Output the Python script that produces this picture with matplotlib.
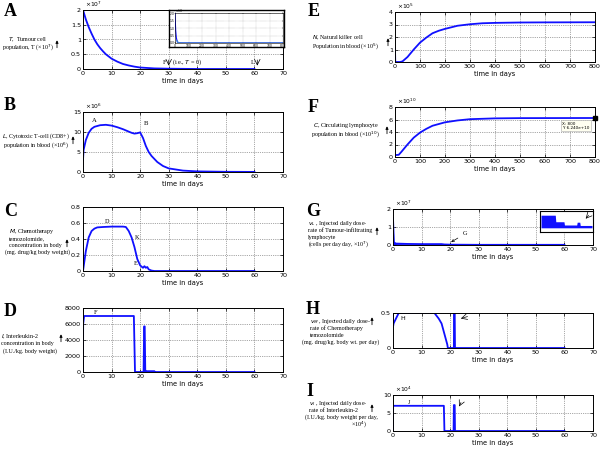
import matplotlib
matplotlib.use("Agg")
import matplotlib.pyplot as plt
from matplotlib.patches import FancyArrowPatch
import numpy as np

W, H = 600, 450
fig = plt.figure(figsize=(6, 4.5), dpi=100)

BLUE = "#1010ff"
SERIF = ["Liberation Serif", "DejaVu Serif"]
SANS = ["DejaVu Sans"]
LFS = 4.3   # side-label font size

# ---------------- data ----------------
tA = [0, 1, 2, 3, 4, 5, 6, 7, 8, 10, 12, 14, 16, 18, 20, 25, 30, 40, 50, 60]
TA = [2.0, 1.68, 1.42, 1.2, 1.0, 0.84, 0.71, 0.6, 0.5, 0.35, 0.25, 0.17, 0.12, 0.08,
      0.05, 0.02, 0.01, 0.0, 0.0, 0.0]
tA_in = [0, 5, 10, 15, 20, 30, 60, 800]
TA_in = [2.0, 0.84, 0.35, 0.15, 0.05, 0.01, 0.0, 0.0]

tB = [0, 0.2, 1, 2, 3, 4, 6, 8, 10, 12, 14, 16, 17, 18, 19, 20, 21, 22, 23, 24, 26, 28,
      30, 35, 40, 50, 60]
LB = [3.0, 5.5, 8.0, 9.8, 10.8, 11.3, 11.7, 11.8, 11.6, 11.2, 10.7, 10.1, 9.8, 9.6,
      9.7, 9.9, 8.5, 6.5, 5.0, 4.0, 2.5, 1.5, 0.9, 0.35, 0.15, 0.05, 0.02]

tC = [0, 1, 2, 3, 4, 5, 7, 10, 14, 15, 16, 17, 18, 19, 20, 21, 21.5, 22, 22.5, 23, 24,
      25, 60]
MC = [0.0, 0.25, 0.42, 0.5, 0.53, 0.545, 0.55, 0.555, 0.555, 0.55, 0.5, 0.42, 0.3,
      0.15, 0.07, 0.04, 0.06, 0.04, 0.05, 0.02, 0.005, 0.0, 0.0]

tD = [0, 0.05, 0.4, 17.8, 18.2, 21.2, 21.4, 21.6, 21.8, 22, 25, 25.1, 60]
ID = [0, 6000, 7000, 7000, 0, 0, 5700, 5700, 0, 100, 100, 0, 0]

tE = [0, 1, 20, 30, 50, 75, 100, 125, 150, 175, 200, 250, 300, 350, 400, 500, 600, 800]
NE = [1.1, 0.0, 0.0, 0.05, 0.4, 1.0, 1.55, 1.95, 2.3, 2.5, 2.65, 2.9, 3.02, 3.1, 3.13,
      3.16, 3.17, 3.18]

tF = [0, 15, 25, 50, 75, 100, 125, 150, 200, 250, 300, 400, 500, 800]
CF = [0.3, 0.35, 0.8, 2.0, 3.1, 3.9, 4.5, 5.0, 5.55, 5.85, 6.05, 6.18, 6.22, 6.24]

tG = [0, 0.3, 1, 5, 10, 17, 18, 20, 30, 40, 50, 60]
VG = [1.5, 0.15, 0.08, 0.06, 0.05, 0.05, 0.03, 0.02, 0.01, 0.01, 0.01, 0.01]
gi_x = [0, 2.8, 2.9, 4.5, 4.6, 7.0, 7.1, 7.6, 7.7, 10]
gi_y = [3.6, 3.6, 2.2, 2.2, 1.5, 1.5, 2.1, 2.1, 1.4, 1.4]

tH = [0, 0.2, 2, 14.5, 16, 17, 18, 19, 19.2, 21.3, 21.4, 21.6, 21.7, 60]
VH = [0.3, 0.35, 0.5, 0.5, 0.42, 0.35, 0.2, 0.05, 0.0, 0.0, 0.5, 0.5, 0.0, 0.0]

tI = [0, 0.05, 17.8, 18.0, 21.2, 21.3, 21.6, 21.7, 60]
VI = [0, 7.0, 7.0, 0, 0, 7.2, 7.2, 0, 0]


def box(x0, x1, y0, y1):
    return [x0 / W, 1 - y1 / H, (x1 - x0) / W, (y1 - y0) / H]


def style(ax, xlim, xt, ylim, yt, xlabel="time in days", fs=4.6):
    ax.set_xlim(*xlim)
    ax.set_ylim(*ylim)
    ax.set_xticks(xt)
    ax.set_yticks(yt)
    ax.tick_params(direction="in", top=True, right=True, length=2, width=0.5,
                   labelsize=fs, pad=1.5)
    for lab in ax.get_xticklabels() + ax.get_yticklabels():
        lab.set_fontfamily(SANS)
    ax.grid(True, linestyle=":", color="#555555", linewidth=0.5)
    for s in ax.spines.values():
        s.set_linewidth(0.7)
    if xlabel:
        ax.set_xlabel(xlabel, fontsize=4.8, labelpad=1.5)


def ftext(x, y, s, **kw):
    kw.setdefault("fontfamily", SERIF)
    fig.text(x / W, 1 - y / H, s, **kw)


def side(x, y, lines, ha="left", pitch=7.0):
    n = len(lines)
    y0 = y - pitch * (n - 1) / 2
    for i, ln in enumerate(lines):
        if isinstance(ln, tuple):
            txt, xx, h = ln
        else:
            txt, xx, h = ln, x, ha
        ftext(xx, y0 + i * pitch, txt, fontsize=LFS, va="center", ha=h)


def offset(ax, s):
    ax.text(0.01, 1.02, s, transform=ax.transAxes, fontsize=4.3, ha="left",
            va="bottom", fontfamily=SANS)


def arrow(x, y):
    p = FancyArrowPatch((x / W, 1 - (y + 6.5) / H), (x / W, 1 - (y - 6.5) / H),
                        transform=fig.transFigure, arrowstyle="-|>",
                        mutation_scale=4, lw=0.6, color="k")
    fig.add_artist(p)


def letter(x, y, s):
    ftext(x, y, s, fontsize=13, fontweight="bold", va="center")


# ---------------- A ----------------
axA = fig.add_axes(box(83, 283, 10, 69))
axA.plot(tA, TA, color=BLUE, lw=1.3)
style(axA, (0, 70), range(0, 71, 10), (0, 2), [0, 0.5, 1, 1.5, 2])
axA.set_yticklabels(["0", "0.5", "1", "1.5", "2"])
offset(axA, "×10$^7$")
axA.text(29, 0.23, "F", fontsize=4.5, ha="right", va="center", fontfamily=SERIF)
axA.annotate("", xy=(30, 0.02), xytext=(30, 0.4),
             arrowprops=dict(arrowstyle="->", lw=0.5, color="k"))
axA.text(31, 0.23, "(i.e., $T$ = 0)", fontsize=4.5, ha="left", va="center",
         fontfamily=SERIF)
axA.text(60, 0.23, "L", fontsize=4.5, ha="right", va="center", fontfamily=SERIF)
axA.annotate("", xy=(61, 0.02), xytext=(61, 0.4),
             arrowprops=dict(arrowstyle="->", lw=0.5, color="k"))
bg = fig.add_axes(box(169, 284, 10, 47))
bg.set_xticks([]); bg.set_yticks([])
for s in bg.spines.values():
    s.set_linewidth(1.0)
axAi = fig.add_axes(box(175, 283, 13, 43))
axAi.plot(tA_in, TA_in, color=BLUE, lw=0.8)
axAi.plot(tA_in[3:], TA_in[3:], color="#3a7bd5", lw=1.0)
axAi.set_xlim(0, 800); axAi.set_ylim(0, 2)
axAi.set_xticks(range(0, 801, 100)); axAi.set_yticks([0, 0.5, 1, 1.5, 2])
axAi.tick_params(direction="in", length=1, width=0.3, labelsize=2.2, pad=0.5,
                 top=True, right=True)
axAi.grid(True, linestyle=":", color="#888888", linewidth=0.3)
for s in axAi.spines.values():
    s.set_linewidth(0.4)
axAi.text(0, 1.01, "×10$^7$", transform=axAi.transAxes, fontsize=2.2)

letter(4, 12, "A")
side(28, 43.5, ["$T$,  Tumour cell", "population, T (×10$^7$)"], ha="center", pitch=8)
arrow(57, 44)

# ---------------- B ----------------
axB = fig.add_axes(box(83, 283, 112, 172))
axB.plot(tB, LB, color=BLUE, lw=1.3)
style(axB, (0, 70), range(0, 71, 10), (0, 15), [0, 5, 10, 15])
offset(axB, "×10$^6$")
axB.text(4, 12.5, "A", fontsize=4.8, ha="center", fontfamily=SERIF)
axB.text(22, 11.8, "B", fontsize=4.8, ha="center", fontfamily=SERIF)
letter(4, 106, "B")
side(36, 141, ["$L$, Cytotoxic T-cell (CD8+)", "population in blood (×10$^6$)"],
     ha="center", pitch=9)
arrow(73, 140)

# ---------------- C ----------------
axC = fig.add_axes(box(83, 283, 207, 271))
axC.plot(tC, MC, color=BLUE, lw=1.3)
style(axC, (0, 70), range(0, 71, 10), (0, 0.8), [0, 0.2, 0.4, 0.6, 0.8])
axC.set_yticklabels(["0", "0.2", "0.4", "0.6", "0.8"])
axC.text(8.5, 0.6, "D", fontsize=4.5, ha="center", fontfamily=SERIF)
axC.text(18.8, 0.4, "K", fontsize=4.5, ha="center", fontfamily=SERIF)
axC.text(18.6, 0.07, "E", fontsize=4.5, ha="center", fontfamily=SERIF)
letter(4, 212, "C")
side(9, 242, ["$M$, Chemotherapy", "temozolomide,", "concentration in body",
              ("(mg. drug/kg body weight)", 5, "left")])
arrow(67, 243)

# ---------------- D ----------------
axD = fig.add_axes(box(83, 283, 308, 372))
axD.plot(tD, ID, color=BLUE, lw=1.3)
style(axD, (0, 70), range(0, 71, 10), (0, 8000), [0, 2000, 4000, 6000, 8000])
axD.text(4.5, 7300, "F", fontsize=4.5, ha="center", fontfamily=SERIF)
letter(4, 311, "D")
side(1, 344, ["$I$, Interleukin-2", "concentration in body",
              ("(I.U./kg. body weight)", 3, "left")])
arrow(61, 338)

# ---------------- E ----------------
axE = fig.add_axes(box(395, 595, 12, 62))
axE.plot(tE, NE, color=BLUE, lw=1.3)
style(axE, (0, 800), range(0, 801, 100), (0, 4), [0, 1, 2, 3, 4])
offset(axE, "×10$^5$")
letter(308, 12, "E")
side(312, 42, ["$N$, Natural killer cell", "Population in blood (×10$^5$)"], pitch=8)
arrow(388, 42)

# ---------------- F ----------------
axF = fig.add_axes(box(395, 595, 107, 157))
axF.plot(tF, CF, color=BLUE, lw=1.3)
style(axF, (0, 800), range(0, 801, 100), (0, 8), [0, 2, 4, 6, 8])
offset(axF, "×10$^{10}$")
axF.plot([tF[-1]], [CF[-1]], marker="s", color="k", ms=3, clip_on=False)
axF.text(668, 5.65, "X: 800\nY: 6.240e+10", fontsize=3.0, fontfamily=SANS, va="top",
         ha="left", linespacing=1.1,
         bbox=dict(boxstyle="square,pad=0.3", fc="#fffff0", ec="#aaaaaa", lw=0.4))
letter(308, 107, "F")
side(346, 130, ["$C$, Circulating lymphocyte", "population in blood (×10$^{10}$)"],
     ha="center", pitch=8.5)
arrow(387, 130)

# ---------------- G ----------------
axG = fig.add_axes(box(393, 593, 209, 245))
axG.fill_between(tG, 0, VG, color=BLUE, lw=0)
axG.plot(tG, VG, color=BLUE, lw=1.3)
style(axG, (0, 70), range(0, 71, 10), (0, 2), [0, 1, 2])
offset(axG, "×10$^7$")
axG.annotate("G", xy=(19.5, 0.08), xytext=(24.5, 0.55), fontsize=4.5,
             fontfamily=SERIF, arrowprops=dict(arrowstyle="->", lw=0.5, color="k"))
gi = fig.add_axes(box(540, 593, 211, 232))
gi.fill_between(gi_x, 0.9, gi_y, color=BLUE, lw=0)
gi.annotate("", xy=(8.4, 2.4), xytext=(9.7, 4.0),
            arrowprops=dict(arrowstyle="->", lw=0.5, color="k"))
gi.set_xlim(-0.2, 10.2); gi.set_ylim(0, 4.5)
gi.set_xticks([]); gi.set_yticks([])
for s in gi.spines.values():
    s.set_linewidth(0.8)
letter(306, 211, "G")
side(308, 234, ["$v_L$ , Injected daily dose-", "rate of Tumour-infiltrating",
                "lymphocyte", "(cells per day day, ×10$^7$)"])
arrow(377, 231)

# ---------------- H ----------------
axH = fig.add_axes(box(393, 593, 313, 348))
axH.plot(tH, VH, color=BLUE, lw=1.3)
style(axH, (0, 70), range(0, 71, 10), (0, 0.5), [0, 0.5])
axH.set_yticklabels(["0", "0.5"])
axH.text(3.5, 0.4, "H", fontsize=4.5, ha="center", fontfamily=SANS)
axH.annotate("", xy=(22.8, 0.41), xytext=(27, 0.46),
             arrowprops=dict(arrowstyle="->", lw=0.5, color="k"))
letter(306, 310, "H")
side(302, 332, [("$v_M$ , Injected daily dose-", 310, "left"),
                ("rate of Chemotherapy", 310, "left"),
                ("temozolomide", 310, "left"),
                "(mg. drug/kg. body wt. per day)"])
arrow(372, 321)

# ---------------- I ----------------
axI = fig.add_axes(box(393, 593, 395, 431))
axI.plot(tI, VI, color=BLUE, lw=1.3)
style(axI, (0, 70), range(0, 71, 10), (0, 10), [0, 5, 10])
offset(axI, "×10$^4$")
axI.text(5.5, 7.6, "J", fontsize=4.5, ha="center", fontfamily=SERIF)
axI.annotate("", xy=(22.7, 6.1), xytext=(24.2, 8.6),
             arrowprops=dict(arrowstyle="->", lw=0.5, color="k"))
letter(306, 392, "I")
side(309, 414, ["$v_I$ , Injected daily dose-", "rate of Interleukin-2",
                ("(I.U./kg. body weight per day,", 305, "left"),
                ("×10$^4$)", 367, "right")])
arrow(372, 408)

fig.savefig("out.png", dpi=100)
